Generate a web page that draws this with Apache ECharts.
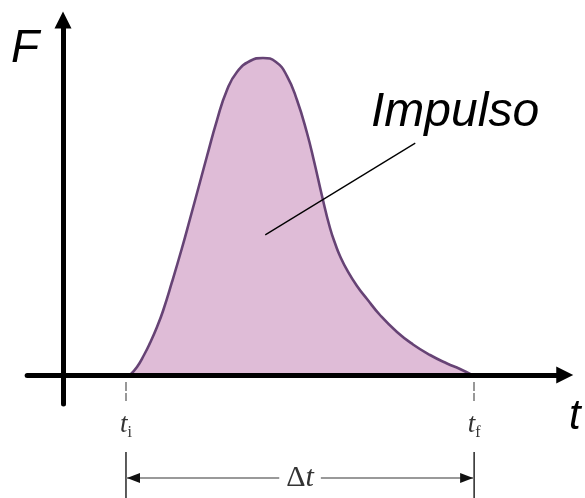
<!DOCTYPE html>
<html>
<head>
<meta charset="utf-8">
<script src="https://cdn.jsdelivr.net/npm/echarts@6/dist/echarts.min.js"></script>
<style>
    html, body { margin: 0; padding: 0; background: #fff; }
    #container { width: 585px; height: 498px; }
</style>
</head>
<body>
<div id="container"></div>
<script>
// force pulse F(t) (arbitrary units)
var curveT = [1.309, 1.445, 1.582, 1.699, 1.836, 1.953, 2.129, 2.324, 2.480, 2.676,
    2.813, 3.008, 3.203, 3.398, 3.652, 3.906, 4.160, 4.375, 4.570, 4.766,
    4.902, 5.059, 5.215, 5.332, 5.410, 5.547, 5.742, 5.938, 6.191, 6.523,
    6.836, 7.168, 7.500, 7.754, 7.988];
var curveF = [0, 0.220, 0.549, 0.879, 1.319, 1.758, 2.555, 3.489, 4.286, 5.302,
    6.016, 7.005, 7.830, 8.324, 8.626, 8.709, 8.599, 8.214, 7.555, 6.648,
    5.879, 4.918, 4.038, 3.544, 3.269, 2.885, 2.445, 2.088, 1.648, 1.181,
    0.838, 0.549, 0.316, 0.165, 0];

// t_i and t_f marks on the time axis
var tTicks = [1.23, 8.03];
var tickSubs = ['i', 'f'];

// leader line from the area to the "Impulso" label
var leaderT = [3.95, 6.88];
var leaderF = [3.85, 6.37];

var dom = document.getElementById('container');
var myChart = echarts.init(dom, null, { renderer: 'canvas' });

var curve = curveT.map(function (t, i) { return [t, curveF[i]]; });
var leader = leaderT.map(function (t, i) { return [t, leaderF[i]]; });

var option = {
    animation: false,
    backgroundColor: '#fff',
    grid: { left: 27.16, right: 20.24, top: 20, bottom: 93.9 },
    xAxis: {
        type: 'value',
        min: -0.7,
        max: 9.8,
        z: 5,
        splitLine: { show: false },
        axisLine: {
            onZero: true,
            symbol: ['none', 'triangle'],
            symbolSize: [17, 17],
            lineStyle: { color: '#000', width: 5 }
        },
        axisTick: {
            show: true,
            customValues: tTicks,
            length: 26,
            lineStyle: { color: '#777', width: 1.5, type: [0, 7, 9, 2, 8, 100] }
        },
        axisLabel: {
            show: true,
            customValues: tTicks,
            margin: 7,
            formatter: function (v) {
                var k = tTicks.indexOf(v);
                return '{t|t}{s|' + tickSubs[k < 0 ? 0 : k] + '}';
            },
            rich: {
                t: { fontFamily: 'Liberation Serif', fontStyle: 'italic', fontSize: 27, color: '#333', lineHeight: 30, verticalAlign: 'top' },
                s: { fontFamily: 'Liberation Serif', fontSize: 16, color: '#333', lineHeight: 14, verticalAlign: 'bottom' }
            }
        }
    },
    yAxis: {
        type: 'value',
        min: -0.8,
        max: 9.753,
        z: 5,
        splitLine: { show: false },
        axisLabel: { show: false },
        axisTick: { show: false },
        axisLine: {
            onZero: true,
            symbol: ['none', 'triangle'],
            symbolSize: [17, 17],
            lineStyle: { color: '#000', width: 5 }
        }
    },
    series: [
        {
            name: 'pulse',
            type: 'line',
            data: curve,
            smooth: 0.5,
            symbol: 'none',
            z: 2,
            lineStyle: { color: '#664375', width: 2.6 },
            areaStyle: { color: '#dfbcd7', opacity: 1 }
        },
        {
            name: 'leader',
            type: 'line',
            data: leader,
            symbol: 'none',
            z: 3,
            lineStyle: { color: '#000', width: 1.3 }
        }
    ]
};
myChart.setOption(option);

// dimension line for delta t, placed from the axis scale
var xi = myChart.convertToPixel({ xAxisIndex: 0 }, tTicks[0]);
var xf = myChart.convertToPixel({ xAxisIndex: 0 }, tTicks[1]);
var dimY = 478;
var dimColor = '#333';

myChart.setOption({
    graphic: [
        { type: 'line', shape: { x1: xi, y1: 452, x2: xi, y2: 498 }, style: { stroke: dimColor, lineWidth: 1.6 } },
        { type: 'line', shape: { x1: xf, y1: 452, x2: xf, y2: 498 }, style: { stroke: dimColor, lineWidth: 1.6 } },
        { type: 'line', shape: { x1: xi, y1: dimY, x2: xf, y2: dimY }, style: { stroke: '#777', lineWidth: 1.5 } },
        { type: 'polygon', shape: { points: [[xi + 1, dimY], [xi + 14, dimY - 5], [xi + 14, dimY + 5]] }, style: { fill: '#111' } },
        { type: 'polygon', shape: { points: [[xf - 1, dimY], [xf - 14, dimY - 5], [xf - 14, dimY + 5]] }, style: { fill: '#111' } },
        {
            type: 'text', x: (xi + xf) / 2, y: dimY, z: 10,
            style: {
                text: '{d|Δ}{t|t}',
                align: 'center', verticalAlign: 'middle',
                backgroundColor: '#fff', padding: [0, 7],
                rich: {
                    d: { fontFamily: 'Liberation Serif', fontSize: 30, fill: '#333' },
                    t: { fontFamily: 'Liberation Serif', fontStyle: 'italic', fontSize: 30, fill: '#333' }
                }
            }
        },
        {
            type: 'text', x: 11, y: 49,
            style: { text: 'F', fontFamily: 'Liberation Sans', fontStyle: 'italic', fontSize: 46, fill: '#000', verticalAlign: 'middle' }
        },
        {
            type: 'text', x: 569, y: 417,
            style: { text: 't', fontFamily: 'Liberation Sans', fontStyle: 'italic', fontSize: 42, fill: '#000', verticalAlign: 'middle' }
        },
        {
            type: 'text', x: 371, y: 113,
            style: { text: 'Impulso', fontFamily: 'Liberation Sans', fontStyle: 'italic', fontSize: 48, fill: '#000', verticalAlign: 'middle' }
        }
    ]
});
</script>
</body>
</html>
